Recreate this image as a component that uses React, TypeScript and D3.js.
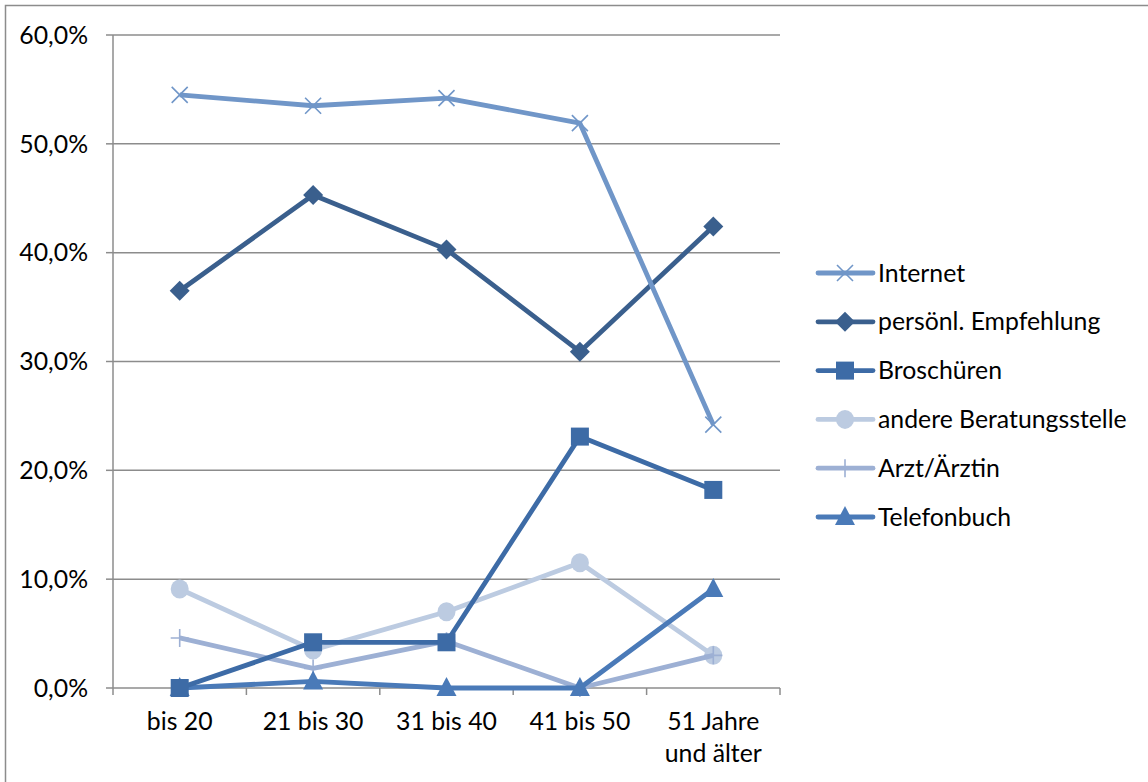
import React from "react";
import * as d3 from "d3";

const categories = ["bis 20", "21 bis 30", "31 bis 40", "41 bis 50", "51 Jahre\nund älter"];
const yTicks = [0, 10, 20, 30, 40, 50, 60];

const internet = [54.5, 53.5, 54.2, 51.9, 24.2];
const empfehlung = [36.5, 45.3, 40.3, 30.9, 42.4];
const broschueren = [0, 4.2, 4.2, 23.1, 18.2];
const beratungsstelle = [9.1, 3.5, 7.0, 11.5, 3.0];
const arzt = [4.6, 1.8, 4.3, 0, 3.0];
const telefonbuch = [0, 0.6, 0, 0, 9.1];

type Marker = "x" | "diamond" | "square" | "circle" | "plus" | "triangle";

const series: { name: string; values: number[]; color: string; marker: Marker }[] = [
  { name: "Internet", values: internet, color: "#7096c8", marker: "x" },
  { name: "persönl. Empfehlung", values: empfehlung, color: "#3a5f8d", marker: "diamond" },
  { name: "Broschüren", values: broschueren, color: "#3d6ba6", marker: "square" },
  { name: "andere Beratungsstelle", values: beratungsstelle, color: "#bccbe1", marker: "circle" },
  { name: "Arzt/Ärztin", values: arzt, color: "#9db0d4", marker: "plus" },
  { name: "Telefonbuch", values: telefonbuch, color: "#4a7ab8", marker: "triangle" },
];

// draw order: light lines underneath
const drawOrder = [3, 4, 5, 2, 1, 0];

const W = 1148;
const H = 782;
const plot = { left: 113, right: 780, top: 35, bottom: 688 };
const font = "Lato, 'Open Sans', sans-serif";
const fontSize = 24.8;

function MarkerShape({ type, x, y, color }: { type: Marker; x: number; y: number; color: string }) {
  switch (type) {
    case "x":
      return (
        <path
          d={`M${x - 8},${y - 8}L${x + 8},${y + 8}M${x - 8},${y + 8}L${x + 8},${y - 8}`}
          stroke={color}
          strokeWidth={1.6}
          fill="none"
        />
      );
    case "diamond":
      return <path d={`M${x},${y - 10}L${x + 10},${y}L${x},${y + 10}L${x - 10},${y}Z`} fill={color} />;
    case "square":
      return <rect x={x - 9} y={y - 9} width={18} height={18} fill={color} />;
    case "circle":
      return <ellipse cx={x} cy={y} rx={9} ry={9.5} fill={color} />;
    case "plus":
      return (
        <path
          d={`M${x - 9},${y}L${x + 9},${y}M${x},${y - 9}L${x},${y + 9}`}
          stroke={color}
          strokeWidth={1.6}
          fill="none"
        />
      );
    case "triangle":
      return <path d={`M${x},${y - 11}L${x + 10},${y + 8}L${x - 10},${y + 8}Z`} fill={color} />;
  }
}

export default function App() {
  const y = d3.scaleLinear().domain([0, 60]).range([plot.bottom, plot.top]);
  const band = d3.scaleBand<number>().domain(d3.range(categories.length)).range([plot.left, plot.right]);
  const xc = (i: number) => (band(i) as number) + band.bandwidth() / 2;
  const line = d3
    .line<number>()
    .x((_, i) => xc(i))
    .y((v) => y(v));

  const boundaries = d3.range(categories.length + 1).map((i) => plot.left + i * band.bandwidth());
  const legendX = 818;
  const legendY0 = 273;
  const legendStep = 48.8;

  return (
    <svg width={W} height={H} style={{ position: "absolute", left: 0, top: 0 }} fontFamily={font}>
      <rect x={0} y={0} width={W} height={H} fill="#fff" />
      <rect x={5.5} y={5.5} width={W + 10} height={H + 10} fill="none" stroke="#8c8c8c" strokeWidth={1.5} />

      {/* horizontal gridlines */}
      {yTicks.slice(1).map((t) => (
        <line key={t} x1={plot.left} x2={plot.right} y1={y(t)} y2={y(t)} stroke="#8c8c8c" strokeWidth={1.5} />
      ))}

      {/* y axis */}
      <line x1={plot.left} x2={plot.left} y1={plot.top} y2={plot.bottom} stroke="#8c8c8c" strokeWidth={1.5} />
      {yTicks.map((t) => (
        <g key={t}>
          <line x1={plot.left - 7} x2={plot.left} y1={y(t)} y2={y(t)} stroke="#8c8c8c" strokeWidth={1.5} />
          <text x={88} y={y(t)} dy="0.35em" textAnchor="end" fontSize={fontSize} fill="#000">
            {t.toFixed(1).replace(".", ",")}%
          </text>
        </g>
      ))}

      {/* x axis */}
      <line x1={plot.left} x2={plot.right} y1={plot.bottom} y2={plot.bottom} stroke="#8c8c8c" strokeWidth={1.5} />
      {boundaries.map((bx, i) => (
        <line key={i} x1={bx} x2={bx} y1={plot.bottom} y2={plot.bottom + 7} stroke="#8c8c8c" strokeWidth={1.5} />
      ))}
      {categories.map((c, i) => (
        <text key={c} x={xc(i)} y={730} textAnchor="middle" fontSize={fontSize} fill="#000">
          {c.split("\n").map((ln, k) => (
            <tspan key={k} x={xc(i)} dy={k === 0 ? 0 : 32}>
              {ln}
            </tspan>
          ))}
        </text>
      ))}

      {/* series lines and markers */}
      {drawOrder.map((si) => {
        const s = series[si];
        return (
          <g key={s.name}>
            <path d={line(s.values) || ""} fill="none" stroke={s.color} strokeWidth={4.8} strokeLinejoin="round" />
            {s.values.map((v, i) => (
              <MarkerShape key={i} type={s.marker} x={xc(i)} y={y(v)} color={s.color} />
            ))}
          </g>
        );
      })}

      {/* legend */}
      {series.map((s, i) => {
        const ly = legendY0 + i * legendStep;
        return (
          <g key={s.name}>
            <line x1={legendX} x2={legendX + 55} y1={ly} y2={ly} stroke={s.color} strokeWidth={4.8} strokeLinecap="round" />
            <MarkerShape type={s.marker} x={legendX + 27} y={ly} color={s.color} />
            <text x={legendX + 60} y={ly} dy="0.35em" fontSize={fontSize} fill="#000">
              {s.name}
            </text>
          </g>
        );
      })}
    </svg>
  );
}
